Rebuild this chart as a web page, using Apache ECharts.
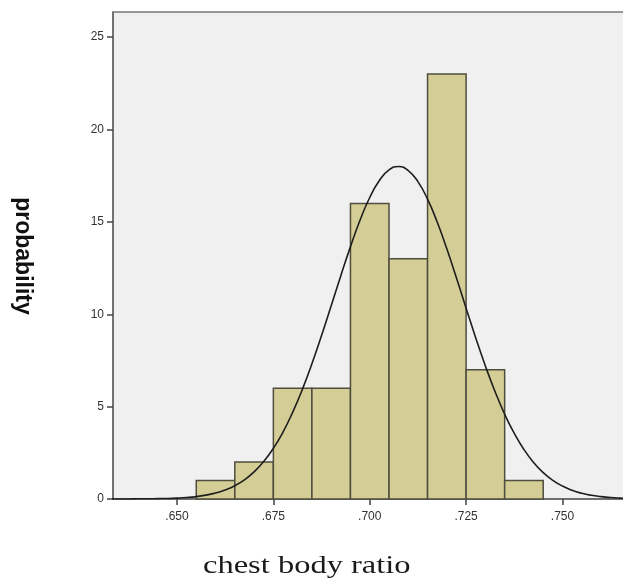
<!DOCTYPE html>
<html>
<head>
<meta charset="utf-8">
<script src="https://cdn.jsdelivr.net/npm/echarts@6/dist/echarts.min.js"></script>
<style>
  html, body { margin: 0; padding: 0; background: #fff; }
  #hist { width: 623px; height: 583px; }
</style>
</head>
<body>
<div id="hist"></div>
<script>
  // histogram bins (left edge, right edge) and counts
  const binStart = [0.655, 0.665, 0.675, 0.685, 0.695, 0.705, 0.715, 0.725, 0.735];
  const binEnd = [0.665, 0.675, 0.685, 0.695, 0.705, 0.715, 0.725, 0.735, 0.745];
  const counts = [1, 2, 6, 6, 16, 13, 23, 7, 1];

  // normal curve
  const curveX = [0.6325, 0.635, 0.6375, 0.640, 0.6425, 0.645, 0.6475, 0.650, 0.6525, 0.655,
    0.6575, 0.660, 0.6625, 0.665, 0.6675, 0.670, 0.6725, 0.675, 0.6775, 0.680,
    0.6825, 0.685, 0.6875, 0.690, 0.6925, 0.695, 0.6975, 0.700, 0.7025, 0.705,
    0.7075, 0.710, 0.7125, 0.715, 0.7175, 0.720, 0.7225, 0.725, 0.7275, 0.730,
    0.7325, 0.735, 0.7375, 0.740, 0.7425, 0.745, 0.7475, 0.750, 0.7525, 0.755,
    0.7575, 0.760, 0.7625, 0.765, 0.7675];
  const curveY = [0.00, 0.00, 0.00, 0.01, 0.01, 0.02, 0.03, 0.05, 0.08, 0.13,
    0.21, 0.32, 0.49, 0.72, 1.04, 1.47, 2.03, 2.74, 3.62, 4.69,
    5.92, 7.32, 8.85, 10.46, 12.09, 13.66, 15.10, 16.32, 17.24, 17.81,
    18.00, 17.78, 17.18, 16.23, 14.99, 13.54, 11.96, 10.33, 8.72, 7.20,
    5.82, 4.59, 3.55, 2.68, 1.98, 1.43, 1.01, 0.70, 0.47, 0.31,
    0.20, 0.13, 0.08, 0.05, 0.03];

  const xTicks = [0.650, 0.675, 0.700, 0.725, 0.750];
  const yTicks = [0, 5, 10, 15, 20, 25];

  let bars = [];
  for (let i = 0; i < counts.length; i++) {
    bars.push([binStart[i], binEnd[i], counts[i]]);
  }
  let curve = [];
  for (let i = 0; i < curveX.length; i++) {
    curve.push([curveX[i], curveY[i]]);
  }

  const labelStyle = {
    color: '#333',
    fontSize: 12,
    fontFamily: 'Liberation Sans'
  };
  const axisLineStyle = { color: '#444', width: 1.5 };

  echarts.init(document.getElementById('hist')).setOption({
    animation: false,
    grid: {
      left: 113,
      top: 12,
      right: 0,
      bottom: 84,
      show: true,
      backgroundColor: '#f0f0f0',
      borderWidth: 0
    },
    xAxis: [
      {
        type: 'value',
        min: 0.6334,
        max: 0.7657,
        splitLine: { show: false },
        axisLine: { show: true, lineStyle: axisLineStyle },
        axisTick: { show: true, length: 6, customValues: xTicks, lineStyle: axisLineStyle },
        axisLabel: Object.assign({
          customValues: xTicks,
          margin: 12,
          formatter: function (v) { return v.toFixed(3).replace(/^0/, ''); }
        }, labelStyle)
      },
      // top border of the plot frame
      {
        type: 'value',
        position: 'top',
        min: 0.6334,
        max: 0.7657,
        splitLine: { show: false },
        axisLine: { show: true, lineStyle: { color: '#777', width: 1.5 } },
        axisTick: { show: false },
        axisLabel: { show: false }
      }
    ],
    yAxis: {
      type: 'value',
      min: 0,
      max: 26.36,
      splitLine: { show: false },
      axisLine: { show: true, lineStyle: axisLineStyle },
      axisTick: { show: true, length: 6, customValues: yTicks, lineStyle: axisLineStyle },
      axisLabel: Object.assign({ customValues: yTicks, margin: 9 }, labelStyle)
    },
    series: [
      // histogram bars
      {
        type: 'custom',
        data: bars,
        encode: { x: [0, 1], y: 2 },
        renderItem: function (params, api) {
          let top = api.coord([api.value(0), api.value(2)]);
          let bottom = api.coord([api.value(1), 0]);
          return {
            type: 'rect',
            shape: { x: top[0], y: top[1], width: bottom[0] - top[0], height: bottom[1] - top[1] },
            style: { fill: '#d4cd95', stroke: '#4f4d3e', lineWidth: 1.5 }
          };
        },
        z: 2
      },
      // normal curve
      {
        type: 'line',
        data: curve,
        smooth: true,
        symbol: 'none',
        lineStyle: { color: '#1e1e1e', width: 1.6 },
        z: 3
      }
    ],
    graphic: [
      {
        type: 'text',
        x: 22,
        y: 256,
        rotation: -Math.PI / 2,
        style: {
          text: 'probability',
          font: 'bold 23px "Liberation Sans"',
          fill: '#111',
          align: 'center',
          verticalAlign: 'middle'
        }
      },
      {
        type: 'text',
        x: 203,
        y: 553,
        scaleX: 1.25,
        style: {
          text: 'chest body ratio',
          font: '26px "Liberation Serif"',
          fill: '#1a1a1a',
          align: 'left',
          verticalAlign: 'top'
        }
      }
    ]
  });
</script>
</body>
</html>
